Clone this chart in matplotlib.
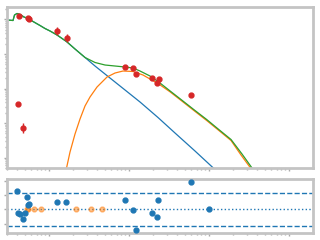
import numpy as np
import matplotlib
matplotlib.use("Agg")
import matplotlib.pyplot as plt

# ---- data (log10 frequency, log10 flux) ----
data_logx = [9.629, 9.734, 9.744, 10.104, 10.221, 9.616, 9.679, 10.954, 11.054,
             11.088, 11.291, 11.371, 11.354, 11.779]
data_logy = [4.101, 4.035, 4.014, 3.658, 3.455, 1.542, 0.846, 2.623, 2.586,
             2.412, 2.296, 2.267, 2.151, 1.812]
data_err_dex = [0.04, 0.04, 0.04, 0.12, 0.12, 0.04, 0.15, 0.04, 0.04,
                0.04, 0.04, 0.04, 0.04, 0.04]

total_logx = [9.475, 9.55, 9.569, 9.6, 9.6375, 9.6875, 9.7375, 9.8, 9.8875, 9.95,
              10.0125, 10.1, 10.221, 10.325, 10.45, 10.575, 10.7, 10.825, 10.95,
              11.05, 11.1375, 11.2625, 11.3875, 11.5125, 11.6375, 11.825, 11.971,
              12.125, 12.275, 12.4125, 12.5375]
total_logy = [3.986, 3.971, 4.130, 4.174, 4.145, 4.072, 4.029, 3.942, 3.826, 3.739,
              3.667, 3.551, 3.357, 3.145, 2.899, 2.754, 2.681, 2.652, 2.623,
              2.594, 2.507, 2.362, 2.159, 1.930, 1.704, 1.362, 1.101,
              0.806, 0.522, 0.101, -0.304]

comp1_logx = [9.475, 9.55, 9.569, 9.6, 9.6375, 9.6875, 9.7375, 9.8, 9.8875, 9.95,
              10.0125, 10.1, 10.221, 10.325, 10.45, 10.575, 10.7625, 10.95,
              11.1375, 11.3625, 11.575, 11.825, 12.054]
comp1_logy = [3.986, 3.971, 4.130, 4.174, 4.145, 4.072, 4.029, 3.942, 3.826, 3.739,
              3.667, 3.551, 3.357, 3.145, 2.899, 2.652, 2.304, 1.957,
              1.609, 1.159, 0.710, 0.188, -0.304]

comp2_logx = [10.219, 10.2625, 10.325, 10.3875, 10.45, 10.5125, 10.6, 10.725,
              10.825, 10.925, 11.05, 11.175, 11.2625, 11.3625, 11.5125, 11.6375,
              11.825, 11.971, 12.125, 12.275, 12.4, 12.519]
comp2_logy = [-0.304, 0.159, 0.681, 1.116, 1.493, 1.754, 2.043, 2.333,
              2.449, 2.507, 2.493, 2.391, 2.275, 2.145, 1.904, 1.678,
              1.336, 1.072, 0.780, 0.493, 0.072, -0.304]

res_logx = [9.604, 9.725, 9.734, 9.746, 9.616, 9.634, 9.704, 9.679, 10.104, 10.216,
            11.779, 10.954, 11.366, 11.054, 11.291, 11.354, 12.004, 11.091]
res_val = [1.26, 0.84, 0.30, 0.37, -0.28, -0.35, -0.28, -0.68, 0.49, 0.49,
           1.91, 0.63, 0.63, -0.05, -0.28, -0.56, 0.0, -1.47]

lim_logx = [9.721, 9.741, 9.816, 9.904, 10.341, 10.529, 10.666]
lim_val = [0, 0, 0, 0, 0, 0, 0]

band = 1.15

# ---- figure ----
fig = plt.figure(figsize=(3.2, 2.4), dpi=100)
ax = fig.add_axes([0.0219, 0.3, 0.9563, 0.6708])
axr = fig.add_axes([0.0219, 0.0292, 0.9563, 0.2250], sharex=ax)

X = lambda v: 10 ** np.asarray(v)

ax.plot(X(comp1_logx), X(comp1_logy), color='tab:blue', lw=0.9)
ax.plot(X(comp2_logx), X(comp2_logy), color='tab:orange', lw=0.9)
ax.plot(X(total_logx), X(total_logy), color='tab:green', lw=0.9)

fy = X(data_logy)
e = np.asarray(data_err_dex)
yerr = [fy - fy * 10 ** (-e), fy * 10 ** e - fy]
ax.errorbar(X(data_logx), fy, yerr=yerr, fmt='o', color='tab:red', ms=3.5,
            elinewidth=1, capsize=0, zorder=5)

ax.set_xscale('log')
ax.set_yscale('log')
ax.set_xlim(10 ** 9.475, 10 ** 13.3)
ax.set_ylim(10 ** -0.304, 10 ** 4.362)

axr.axhline(0, color='tab:blue', ls=':', lw=1)
axr.axhline(band, color='tab:blue', ls='--', lw=1)
axr.axhline(-band, color='tab:blue', ls='--', lw=1)
axr.plot(X(lim_logx), lim_val, 'o', color='tab:orange', ms=3.5, alpha=0.5, zorder=4)
axr.plot(X(res_logx), res_val, 'o', color='tab:blue', ms=3.5, zorder=5)
axr.set_ylim(-1.66, 2.12)
axr.set_yticks([-1, 0, 1, 2])

for a in (ax, axr):
    for s in a.spines.values():
        s.set_color('#c4c4c4')
        s.set_linewidth(2)
    a.tick_params(which='both', labelbottom=False, labelleft=False,
                  color='#aaaaaa', length=2.5, width=1)
    a.tick_params(which='minor', length=1.5)

fig.savefig('out.png', dpi=100)
